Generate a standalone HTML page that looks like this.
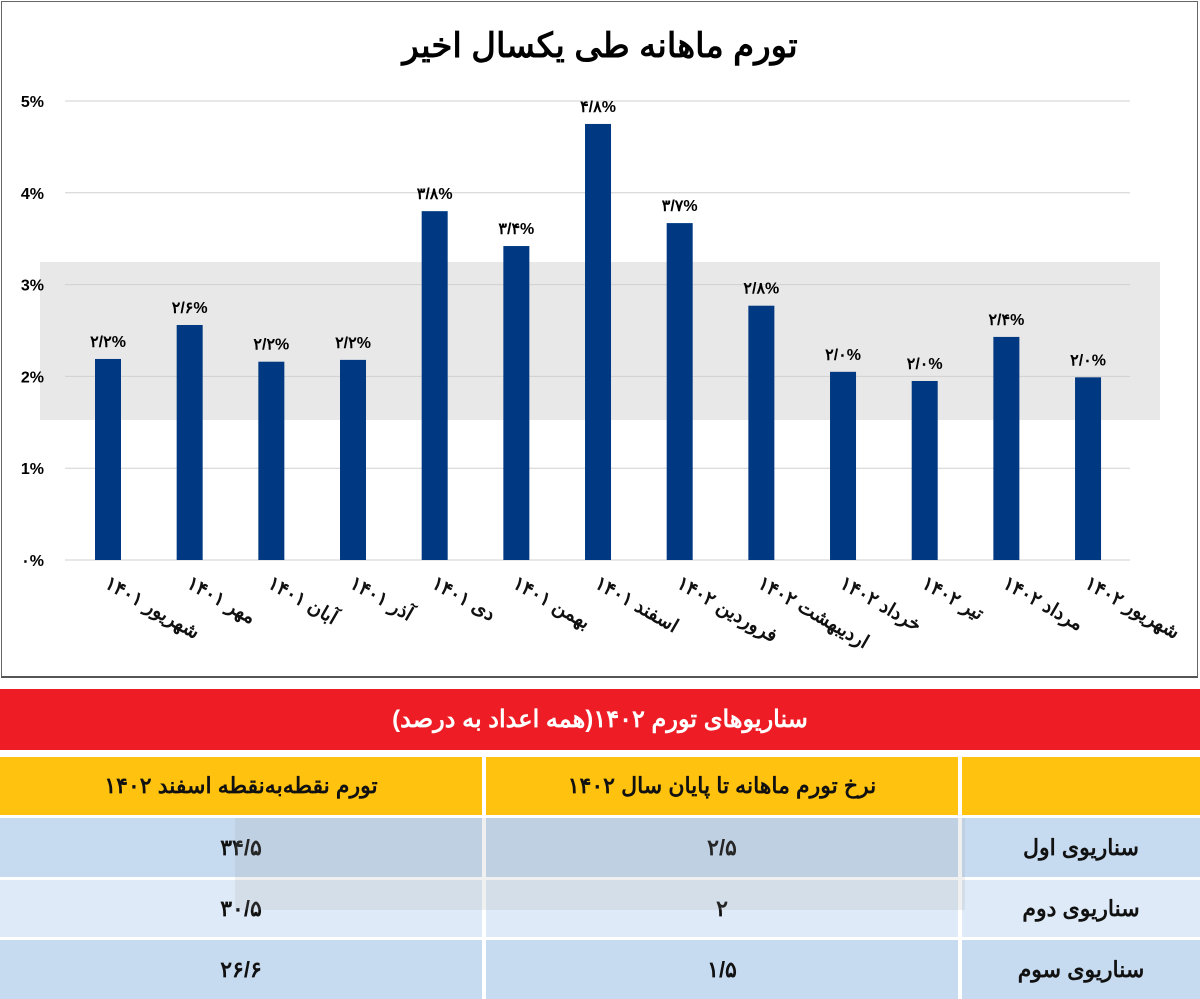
<!DOCTYPE html>
<html><head><meta charset="utf-8">
<style>
body{margin:0;width:1200px;height:999px;background:#fff;font-family:"Liberation Sans","Noto Sans CJK SC",sans-serif;overflow:hidden;position:relative}
.abs{position:absolute}
.xl{position:absolute;transform-origin:0 0;transform:rotate(30deg);direction:rtl;font-size:19px;font-weight:bold;white-space:nowrap;color:#111}
.cell{position:absolute;display:flex;align-items:center;justify-content:center;font-weight:bold;font-size:22px;direction:rtl;color:#111}
</style></head><body>
<div class="abs" style="left:1px;top:1px;width:1195px;height:674px;border:1px solid #666;border-bottom:2px solid #555"></div>
<div class="abs" style="left:0;top:26px;width:1200px;text-align:center;font-size:34px;font-weight:bold;direction:rtl">تورم ماهانه طی یکسال اخیر</div>
<svg class="abs" style="left:0;top:0" width="1200" height="680">
<rect x="40" y="262" width="1120" height="158" fill="#d9d9d9" opacity="0.6"/>
<g id="g"></g>
</svg>
<div id="xlabels"></div>
<script>
const categories=["شهریور ۱۴۰۱","مهر ۱۴۰۱","آبان ۱۴۰۱","آذر ۱۴۰۱","دی ۱۴۰۱","بهمن ۱۴۰۱","اسفند ۱۴۰۱","فروردین ۱۴۰۲","اردیبهشت ۱۴۰۲","خرداد ۱۴۰۲","تیر ۱۴۰۲","مرداد ۱۴۰۲","شهریور ۱۴۰۲"];
const values=[2.19,2.56,2.16,2.18,3.80,3.42,4.75,3.67,2.77,2.05,1.95,2.43,1.99];
const valueLabels=["۲/۲%","۲/۶%","۲/۲%","۲/۲%","۳/۸%","۳/۴%","۴/۸%","۳/۷%","۲/۸%","۲/۰%","۲/۰%","۲/۴%","۲/۰%"];
const ticks=[0,1,2,3,4,5];
const tickLabels=["۰%","1%","2%","3%","4%","5%"];
const NS="http://www.w3.org/2000/svg";
const y=v=>560-v*91.8;
const x=i=>108+i*81.67;
const g=document.getElementById('g');
ticks.forEach((t,i)=>{
 const l=document.createElementNS(NS,'line');
 
 
 l.setAttribute('x1',65);l.setAttribute('x2',1130);l.setAttribute('y1',y(t));l.setAttribute('y2',y(t));
 l.setAttribute('stroke','#d0d0d0');g.appendChild(l);
 const tx=document.createElementNS(NS,'text');
 
 
 tx.setAttribute('x',44);tx.setAttribute('y',y(t)+6);tx.setAttribute('text-anchor','end');
 tx.setAttribute('font-size','16');tx.setAttribute('font-weight','bold');tx.textContent=tickLabels[i];g.appendChild(tx);
});
const xl=document.getElementById('xlabels');
values.forEach((v,i)=>{
 const r=document.createElementNS(NS,'rect');
 
 
 r.setAttribute('x',x(i)-13);r.setAttribute('width',26);r.setAttribute('y',y(v));r.setAttribute('height',560-y(v));
 r.setAttribute('fill','#003882');g.appendChild(r);
 const t=document.createElementNS(NS,'text');
 
 
 t.setAttribute('x',x(i));t.setAttribute('y',y(v)-12);t.setAttribute('text-anchor','middle');
 t.setAttribute('font-size','16');t.setAttribute('font-weight','bold');t.textContent=valueLabels[i];g.appendChild(t);
 const d=document.createElement('div');
 
 
 d.className='xl';d.style.left=(x(i)+4)+'px';d.style.top='572px';d.textContent=categories[i];xl.appendChild(d);
});
</script>
<div class="cell" style="left:0;top:689px;width:1200px;height:61px;background:#ee1c25;color:#fff;font-size:24px">سناریوهای تورم ۱۴۰۲(همه اعداد به درصد)</div>
<div class="cell" style="left:0;top:757px;width:482px;height:58px;background:#ffc20e">تورم نقطه‌به‌نقطه اسفند ۱۴۰۲</div>
<div class="cell" style="left:486px;top:757px;width:472px;height:58px;background:#ffc20e">نرخ تورم ماهانه تا پایان سال ۱۴۰۲</div>
<div class="cell" style="left:962px;top:757px;width:238px;height:58px;background:#ffc20e"></div>
<div class="cell" style="left:0;top:818px;width:482px;height:59px;background:#c6daf0">۳۴/۵</div>
<div class="cell" style="left:486px;top:818px;width:472px;height:59px;background:#c6daf0">۲/۵</div>
<div class="cell" style="left:962px;top:818px;width:238px;height:59px;background:#c6daf0">سناریوی اول</div>
<div class="cell" style="left:0;top:880px;width:482px;height:57px;background:#deeaf7">۳۰/۵</div>
<div class="cell" style="left:486px;top:880px;width:472px;height:57px;background:#deeaf7">۲</div>
<div class="cell" style="left:962px;top:880px;width:238px;height:57px;background:#deeaf7">سناریوی دوم</div>
<div class="cell" style="left:0;top:940px;width:482px;height:59px;background:#c6daf0">۲۶/۶</div>
<div class="cell" style="left:486px;top:940px;width:472px;height:59px;background:#c6daf0">۱/۵</div>
<div class="cell" style="left:962px;top:940px;width:238px;height:59px;background:#c6daf0">سناریوی سوم</div>
<div class="abs" style="left:235px;top:818px;width:730px;height:92px;background:#999;opacity:0.15"></div>
</body></html>
